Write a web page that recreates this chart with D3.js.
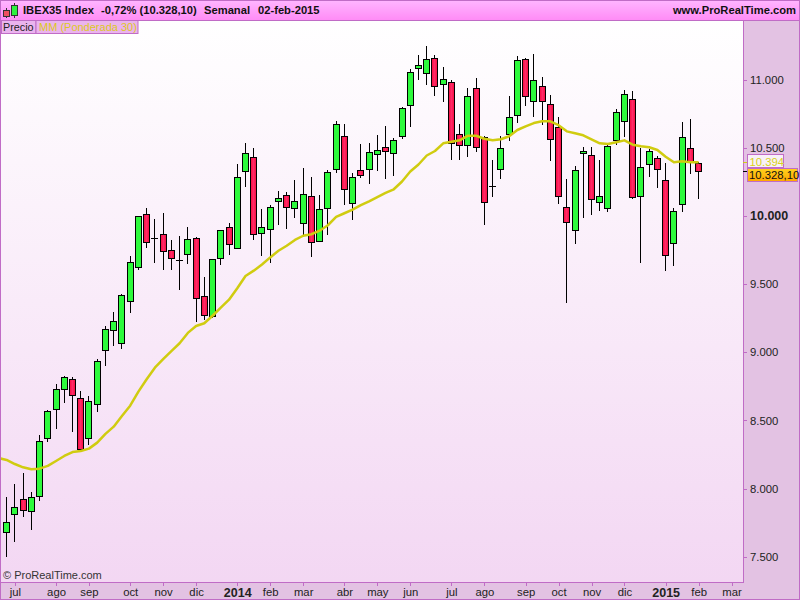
<!DOCTYPE html>
<html><head><meta charset="utf-8">
<script src="https://cdn.jsdelivr.net/npm/d3@7/dist/d3.min.js"></script>
<style>html,body{margin:0;padding:0;background:#e3c2e3}svg{display:block}text{font-family:"Liberation Sans",Arial,sans-serif}</style>
</head><body><svg id="c" width="800" height="600"></svg>
<script>
const opens=[7679,7811,7921,7833,7948,8369,8582,8729,8802,8662,8369,8623,9015,9161,9066,9374,9624,10012,9839,9866,9748,9677,9719,9836,9411,9264,9690,9917,9763,10328,10431,9873,9902,10108,10152,10056,9946,10145,9814,10056,10343,10585,10093,10335,10343,10453,10504,10460,10585,10812,11084,11047,11157,10966,10981,10599,10519,10937,10577,10220,10343,10599,10739,11150,10842,10952,10820,10651,10064,9895,10460,10445,10101,10056,10555,10695,10856,10145,10379,10423,10262,9800,10086,10497,10387];
const highs=[7938,8031,8112,7973,8391,8577,8767,8826,8817,8714,8677,8949,9191,9293,9425,9704,10000,10059,9978,10022,9824,9853,9919,9844,9552,9685,9897,9946,10382,10536,10499,10049,10079,10181,10174,10264,10350,10284,10152,10335,10695,10673,10313,10526,10533,10592,10658,10570,10798,11076,11179,11245,11179,11091,10996,10673,10937,11010,10585,10411,10585,10878,11172,11157,11186,11018,10886,10724,10269,10365,10504,10504,10409,10536,10783,10922,10915,10497,10492,10438,10387,10056,10687,10710,10396];
const lows=[7500,7610,7794,7696,7911,8344,8437,8630,8417,8274,8320,8564,8902,9048,9026,9288,9604,9765,9657,9604,9604,9457,9648,9222,9237,9254,9640,9714,9762,10215,9824,9707,9653,9936,9907,9983,9861,9697,9807,9863,10318,10083,9971,10277,10237,10332,10274,10296,10567,10655,11000,10963,10883,10839,10411,10411,10435,10472,9934,10142,10271,10552,10682,10809,10724,10668,10406,10088,9364,9797,9988,10010,10039,10032,10519,10577,10123,9653,10288,10208,9599,9635,10032,10310,10127];
const closes=[7757,7863,7841,7941,8347,8567,8729,8817,8684,8288,8645,8934,9169,9227,9418,9660,9998,9807,9839,9741,9690,9677,9829,9396,9271,9682,9895,9792,10284,10460,9866,9917,10064,10130,10064,10108,10159,9807,10049,10321,10673,10196,10284,10299,10467,10482,10475,10555,10790,11054,11106,11150,10952,11003,10533,10519,10878,10504,10101,10220,10497,10724,11142,10878,10996,10842,10563,10145,9954,10335,10475,10123,10145,10511,10761,10893,10137,10357,10475,10343,9712,10034,10577,10394,10328.1];
// weighted moving average, first entry sits one week before the first candle
const maValues=[8224,8210,8180,8156,8142,8146,8166,8202,8239,8268,8276,8293,8337,8401,8454,8533,8608,8711,8802,8887,8949,9009,9066,9142,9193,9213,9268,9327,9386,9470,9560,9599,9644,9696,9745,9782,9824,9855,9866,9892,9932,9993,10020,10046,10079,10108,10139,10169,10196,10253,10326,10378,10444,10477,10533,10545,10555,10589,10589,10567,10555,10563,10585,10631,10658,10682,10695,10695,10666,10621,10607,10592,10563,10533,10528,10541,10555,10523,10511,10504,10484,10435,10394,10401,10394,10394];
const yTicks=[7500,8000,8500,9000,9500,10000,10500,11000];
const xTickWeeks=[1,6,10,15,19,23,28,32,36,41,45,49,54,58,63,67,71,75,80,84,88];
const xTickLabels=["jul","ago","sep","oct","nov","dic","2014","feb","mar","abr","may","jun","jul","ago","sep","oct","nov","dic","2015","feb","mar"];
const boldX=new Set(["2014","2015"]);

const PINK="#c06cc6";
const svg=d3.select("#c");
const x=d3.scaleLinear().domain([0,84]).range([6.6,698.6]);
const y=d3.scaleLinear().domain([7500,11000]).range([556.7,79.7]);
const col=i=>Math.floor(x(i))+.5;
const fmt=d3.formatLocale({decimal:",",thousands:".",grouping:[3]}).format(",d");

const defs=svg.append("defs");
const lg=(id,a,b,stops)=>{const g=defs.append("linearGradient").attr("id",id).attr("x1",0).attr("y1",0).attr("x2",a).attr("y2",b);
 stops.forEach(s=>g.append("stop").attr("offset",s[0]).attr("stop-color",s[1]));};
lg("bg",0,1,[[0,"#ffffff"],[1,"#f3d7f3"]]);
lg("hd",0,1,[[0,"#ffb4ff"],[1,"#ff8cf6"]]);
lg("red",1,0,[[0,"#f50a3c"],[.5,"#ff2a68"],[1,"#f50a3c"]]);
lg("org",0,1,[[0,"#ffd21e"],[1,"#ffa500"]]);
defs.append("clipPath").attr("id","plot").append("rect").attr("x",1).attr("y",21).attr("width",742).attr("height",561);

svg.append("rect").attr("width",800).attr("height",600).attr("fill","#e3c2e3");
svg.append("rect").attr("x",1).attr("y",21).attr("width",742).attr("height",561).attr("fill","url(#bg)");
svg.append("rect").attr("x",.5).attr("y",.5).attr("width",799).attr("height",599).attr("fill","none").attr("stroke",PINK);
svg.append("path").attr("d","M743.5 20V582.5H0").attr("fill","none").attr("stroke",PINK).attr("shape-rendering","crispEdges");

// header
svg.append("rect").attr("x",1).attr("y",1).attr("width",798).attr("height",19).attr("fill","url(#hd)");
svg.append("line").attr("x1",0).attr("x2",800).attr("y1",20.5).attr("y2",20.5).attr("stroke",PINK);
const icon=svg.append("g").attr("shape-rendering","crispEdges");
icon.append("line").attr("x1",6.5).attr("x2",6.5).attr("y1",8).attr("y2",18).attr("stroke","#333");
icon.append("rect").attr("x",3.5).attr("y",10.5).attr("width",6).attr("height",6).attr("fill","#f05060").attr("stroke","#333");
icon.append("line").attr("x1",14.5).attr("x2",14.5).attr("y1",3).attr("y2",18).attr("stroke","#333");
icon.append("rect").attr("x",11.5).attr("y",5.5).attr("width",6).attr("height",10).attr("fill","#30f040").attr("stroke","#333");
const hdr=(t,xp,anc)=>svg.append("text").attr("x",xp).attr("y",14).attr("text-anchor",anc||"start").attr("font-size",11.2).attr("font-weight","bold").attr("fill","#111").text(t);
hdr("IBEX35 Index",23);hdr("-0,72% (10.328,10)",101);hdr("Semanal",204);hdr("02-feb-2015",258);hdr("www.ProRealTime.com",796,"end");

// legend
svg.append("rect").attr("x",1.5).attr("y",20.5).attr("width",34.5).attr("height",13).attr("fill","#eab4ee").attr("stroke",PINK);
svg.append("rect").attr("x",36).attr("y",20.5).attr("width",102).attr("height",13).attr("fill","#eab4ee").attr("stroke",PINK);
svg.append("text").attr("x",3).attr("y",31).attr("font-size",10.8).attr("fill","#222").text("Precio");
svg.append("text").attr("x",39).attr("y",31).attr("font-size",11).attr("fill","#dcc81e").text("MM (Ponderada 30)");

// axes
const ya=svg.append("g").attr("transform","translate(743,0)").call(d3.axisRight(y).tickValues(yTicks).tickFormat(fmt).tickSize(4).tickPadding(3));
ya.select(".domain").remove();
ya.selectAll("line").attr("stroke",PINK).attr("shape-rendering","crispEdges");
ya.selectAll("text").attr("font-size",d=>d===10000?12.5:11.3).attr("fill","#222").attr("font-weight",d=>d===10000?"bold":null).attr("font-family",'"Liberation Sans"');
const xa=svg.append("g").attr("transform","translate(0,582)").call(d3.axisBottom(x).tickValues(xTickWeeks).tickFormat((d,i)=>xTickLabels[i]).tickSize(4).tickPadding(2));
xa.select(".domain").remove();
xa.selectAll("line").attr("stroke",PINK).attr("shape-rendering","crispEdges");
xa.selectAll("text").attr("font-size",(d,i)=>boldX.has(xTickLabels[i])?12.5:11.3).attr("fill","#222").attr("font-weight",(d,i)=>boldX.has(xTickLabels[i])?"bold":null).attr("font-family",'"Liberation Sans"');

// candles
const plot=svg.append("g").attr("clip-path","url(#plot)");
const idx=d3.range(opens.length);
plot.append("g").selectAll("line").data(idx).join("line")
 .attr("x1",col).attr("x2",col).attr("y1",i=>Math.round(y(highs[i]))).attr("y2",i=>Math.round(y(lows[i])))
 .attr("stroke","#000").attr("shape-rendering","crispEdges");
plot.append("g").selectAll("rect").data(idx).join("rect")
 .attr("x",i=>col(i)-3).attr("width",6)
 .attr("y",i=>Math.round(y(Math.max(opens[i],closes[i])))+.5)
 .attr("height",i=>Math.max(.01,Math.round(y(Math.min(opens[i],closes[i])))-Math.round(y(Math.max(opens[i],closes[i])))))
 .attr("fill",i=>closes[i]>=opens[i]?"#2dfa3c":"url(#red)")
 .attr("stroke","#000").attr("shape-rendering","crispEdges");
// moving average
plot.append("path").attr("fill","none").attr("stroke","#d0cc10").attr("stroke-width",2.5).attr("stroke-linejoin","round")
 .attr("d",d3.line().x((d,i)=>x(i-1)).y(d=>y(d))(maValues));

svg.append("text").attr("x",3).attr("y",579).attr("font-size",11).attr("fill","#333").text("\u00a9 ProRealTime.com");

// last-value labels
const lastMa=maValues[maValues.length-1],lastC=closes[closes.length-1];
const ymY=Math.round(y(lastMa)),cY=Math.round(y(lastC));
svg.append("line").attr("x1",743).attr("x2",747).attr("y1",ymY+.5).attr("y2",ymY+.5).attr("stroke","#d0cc10");
svg.append("line").attr("x1",743).attr("x2",747).attr("y1",cY+.5).attr("y2",cY+.5).attr("stroke","#000");
svg.append("rect").attr("x",747.5).attr("y",154.5).attr("width",36).attr("height",13).attr("fill","#f8f0f8").attr("stroke",PINK);
svg.append("text").attr("x",749.5).attr("y",165.5).attr("font-size",11.3).attr("fill","#d8d020").text(fmt(Math.round(lastMa)));
svg.append("rect").attr("x",747.5).attr("y",168.5).attr("width",50,).attr("height",13).attr("fill","url(#org)").attr("stroke",PINK);
svg.append("text").attr("x",749).attr("y",179).attr("font-size",11.3).attr("fill","#111").text("10.328,10");
</script></body></html>
